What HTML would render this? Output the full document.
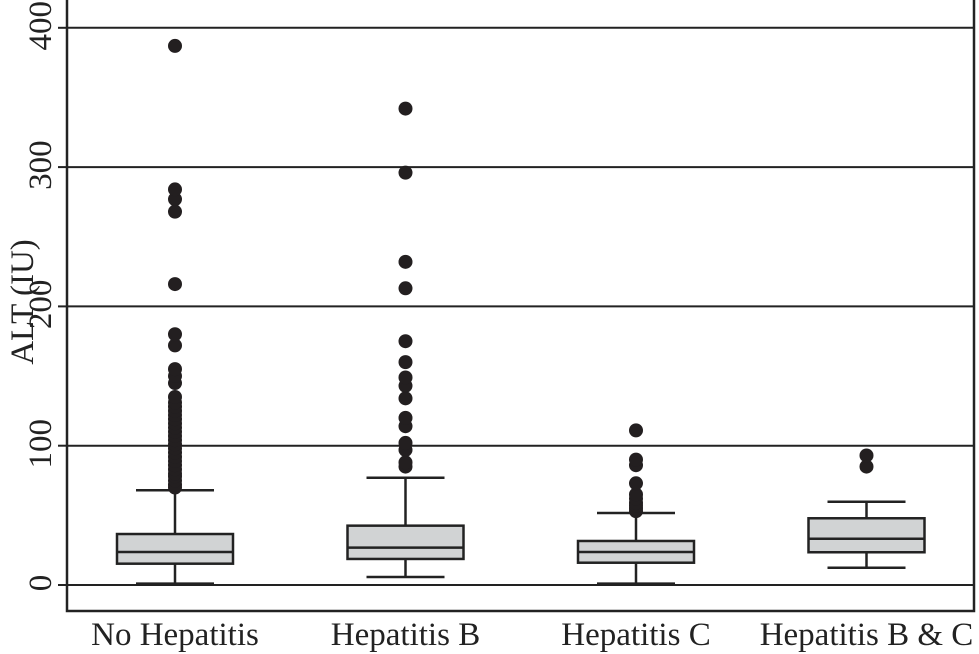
<!DOCTYPE html>
<html><head><meta charset="utf-8"><style>
body{margin:0;background:#fff;}
svg{display:block;font-family:"Liberation Serif",serif;}
</style></head><body>
<svg id="chart" width="979" height="654">
<g id="grid"></g><g id="boxes"></g><g id="axes"></g>
</svg>
<script>
const categories=["No Hepatitis","Hepatitis B","Hepatitis C","Hepatitis B & C"];
const whiskerLow=[1,5.7,1,12.4];
const q1=[15.3,18.7,16,23.5];
const medians=[23.7,26.8,23.7,33.2];
const q3=[36.6,42.6,31.6,47.9];
const whiskerHigh=[68,77,51.7,59.8];
const outliers=[
[70,72,75,78,80,83,86,89,92,95,98,101,104,107,110,113,116,119,122,125,128,131,135,145,150,155,172,180,216,268,277,284,387],
[85,88,97,102,114,120,134,143,149,160,175,213,232,296,342],
[53,55,57,59,62,65,73,86,90,111],
[85,93]];
const yTicks=[0,100,200,300,400];
const NS="http://www.w3.org/2000/svg";
const L=67,R=974,T=0,B=611;
const y=v=>585-1.393*v;
const x=i=>175+i*230.5;
function mk(tag,attrs,parent){const e=document.createElementNS(NS,tag);for(const k in attrs)e.setAttribute(k,attrs[k]);parent.appendChild(e);return e;}
const grid=document.getElementById('grid'),boxes=document.getElementById('boxes'),axes=document.getElementById('axes');
yTicks.forEach(t=>{
 const g=mk('line',{x1:L,x2:R,y1:y(t),y2:y(t),stroke:'#222','stroke-width':2},grid);
 
 
 const tk=mk('line',{x1:L-9,x2:L,y1:y(t),y2:y(t),stroke:'#222','stroke-width':2},axes);
 
 
 const lb=mk('text',{x:0,y:0,'font-size':33,'text-anchor':'middle',fill:'#222',transform:`translate(51,${y(t)-2}) rotate(-90)`},axes);
 lb.textContent=t;
 
 
});
categories.forEach((c,i)=>{
 const cx=x(i),g=mk('g',{},boxes);
 
 
 const s={stroke:'#222','stroke-width':2.5};
 mk('line',{x1:cx,x2:cx,y1:y(whiskerLow[i]),y2:y(q1[i]),...s},g);
 mk('line',{x1:cx,x2:cx,y1:y(q3[i]),y2:y(whiskerHigh[i]),...s},g);
 mk('line',{x1:cx-39,x2:cx+39,y1:y(whiskerLow[i]),y2:y(whiskerLow[i]),...s},g);
 mk('line',{x1:cx-39,x2:cx+39,y1:y(whiskerHigh[i]),y2:y(whiskerHigh[i]),...s},g);
 mk('rect',{x:cx-58,width:116,y:y(q3[i]),height:y(q1[i])-y(q3[i]),fill:'#d1d3d4',...s},g);
 mk('line',{x1:cx-58,x2:cx+58,y1:y(medians[i]),y2:y(medians[i]),...s},g);
 outliers[i].forEach(v=>{
  const d=mk('circle',{cx:cx,cy:y(v),r:7,fill:'#231f20'},g);
  
  
 });
 const lb=mk('text',{x:cx,y:645,'font-size':33,'text-anchor':'middle',fill:'#222'},axes);
 lb.textContent=c;
 
 
});
const fr=mk('rect',{x:L,y:T-2,width:R-L,height:B-T+2,fill:'none',stroke:'#222','stroke-width':2.5},axes);


const yt=mk('text',{x:0,y:0,'font-size':33,'text-anchor':'middle',fill:'#222',transform:'translate(33,302) rotate(-90)'},axes);
yt.textContent='ALT (IU)';


</script>
</body></html>
